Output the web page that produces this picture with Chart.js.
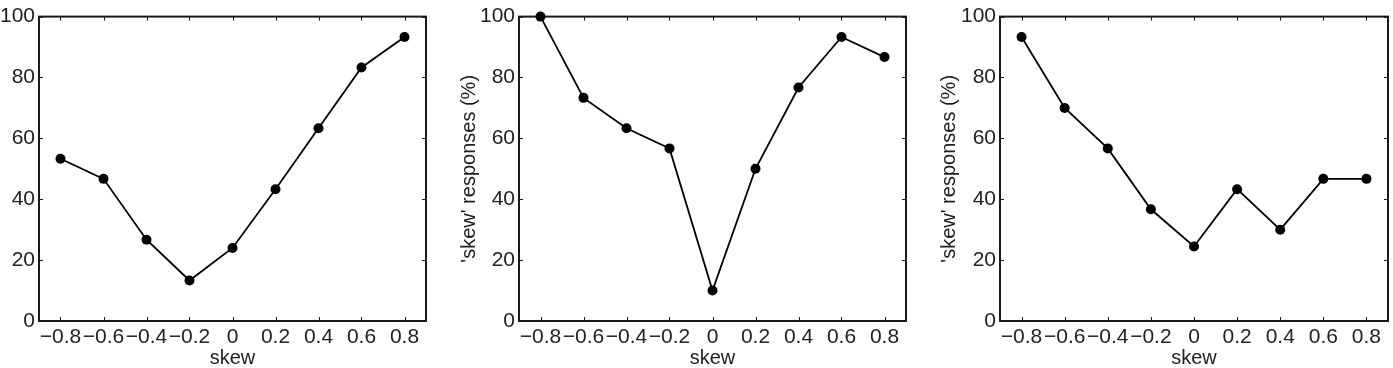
<!DOCTYPE html>
<html>
<head>
<meta charset="utf-8">
<script src="https://cdn.jsdelivr.net/npm/chart.js@4/dist/chart.umd.min.js"></script>
<style>
  html, body { margin: 0; padding: 0; background: #ffffff; }
  body { width: 1393px; height: 368px; position: relative; overflow: hidden; }
  canvas { position: absolute; top: 0; }
</style>
</head>
<body>
<canvas id="c1"></canvas>
<canvas id="c2"></canvas>
<canvas id="c3"></canvas>
<script>
// ---- data ----
const skewValues = [-0.8, -0.6, -0.4, -0.2, 0, 0.2, 0.4, 0.6, 0.8];
const xTickLabels = ['\u22120.8', '\u22120.6', '\u22120.4', '\u22120.2', '0', '0.2', '0.4', '0.6', '0.8'];
const yTickValues = [0, 20, 40, 60, 80, 100];
const panel1Values = [53.3, 46.7, 26.7, 13.3, 24, 43.3, 63.3, 83.3, 93.3];
const panel2Values = [100, 73.3, 63.3, 56.7, 10, 50, 76.7, 93.3, 86.7];
const panel3Values = [93.3, 70, 56.7, 36.7, 24.5, 43.3, 30, 46.7, 46.7];
const xTitle = 'skew';
const yTitle = "'skew' responses (%)";

const FONT = "'Liberation Sans', Arial, Helvetica, sans-serif";
const TEXT = '#222222';
const AXIS = '#1a1a1a';

const framePlugin = {
  id: 'frame',
  beforeDatasetsDraw(chart) {
    const { ctx, chartArea: a, scales } = chart;
    ctx.save();
    ctx.strokeStyle = AXIS;
    ctx.lineWidth = 1;
    const tl = 4;
    ctx.beginPath();
    scales.x.ticks.forEach(t => {
      const px = Math.round(scales.x.getPixelForValue(t.value)) + 0.5;
      ctx.moveTo(px, a.bottom); ctx.lineTo(px, a.bottom - tl);
      ctx.moveTo(px, a.top); ctx.lineTo(px, a.top + tl);
    });
    scales.y.ticks.forEach(t => {
      const py = Math.round(scales.y.getPixelForValue(t.value)) + 0.5;
      ctx.moveTo(a.left, py); ctx.lineTo(a.left + tl, py);
      ctx.moveTo(a.right, py); ctx.lineTo(a.right - tl, py);
    });
    ctx.stroke();
    ctx.lineWidth = 2;
    ctx.strokeRect(a.left, a.top, a.right - a.left, a.bottom - a.top);
    ctx.restore();
  }
};

function makePanel(id, left, width, yAxisWidth, values, showYTitle) {
  const cv = document.getElementById(id);
  cv.width = width; cv.height = 368;
  cv.style.left = left + 'px';
  return new Chart(cv, {
    type: 'line',
    data: {
      datasets: [{
        data: skewValues.map((x, i) => ({ x: x, y: values[i] })),
        borderColor: '#000000',
        backgroundColor: '#000000',
        borderWidth: 1.8,
        pointRadius: 5,
        pointBorderWidth: 0,
        pointBackgroundColor: '#000000',
        tension: 0,
        clip: false
      }]
    },
    options: {
      responsive: false,
      devicePixelRatio: 1,
      animation: false,
      events: [],
      layout: { padding: { top: 15, right: 2, left: 0, bottom: 0 } },
      plugins: { legend: { display: false }, tooltip: { enabled: false } },
      scales: {
        x: {
          type: 'linear',
          min: -0.9, max: 0.9,
          afterBuildTicks: s => { s.ticks = skewValues.map(v => ({ value: v })); },
          afterFit: s => { s.height = 47; },
          grid: { display: false, drawTicks: false },
          border: { display: false },
          ticks: {
            autoSkip: false, maxRotation: 0, padding: 4,
            color: TEXT, font: { family: FONT, size: 21 },
            callback: (v, i) => xTickLabels[i]
          },
          title: {
            display: true, text: xTitle, color: TEXT,
            font: { family: FONT, size: 20, lineHeight: 1 },
            padding: { top: 0, bottom: 0 }
          }
        },
        y: {
          type: 'linear',
          min: 0, max: 100,
          afterBuildTicks: s => { s.ticks = yTickValues.map(v => ({ value: v })); },
          afterFit: s => { s.width = yAxisWidth; },
          grid: { display: false, drawTicks: false },
          border: { display: false },
          ticks: {
            autoSkip: false, padding: 4,
            color: TEXT, font: { family: FONT, size: 21 },
            callback: v => String(v)
          },
          title: {
            display: showYTitle, text: yTitle, color: TEXT,
            font: { family: FONT, size: 20, lineHeight: 1 },
            padding: { top: 0, bottom: 0 }
          }
        }
      }
    },
    plugins: [framePlugin]
  });
}

makePanel('c1', 0, 431, 39, panel1Values, false);
makePanel('c2', 459, 452, 60, panel2Values, true);
makePanel('c3', 939, 454, 61, panel3Values, true);
</script>
</body>
</html>
